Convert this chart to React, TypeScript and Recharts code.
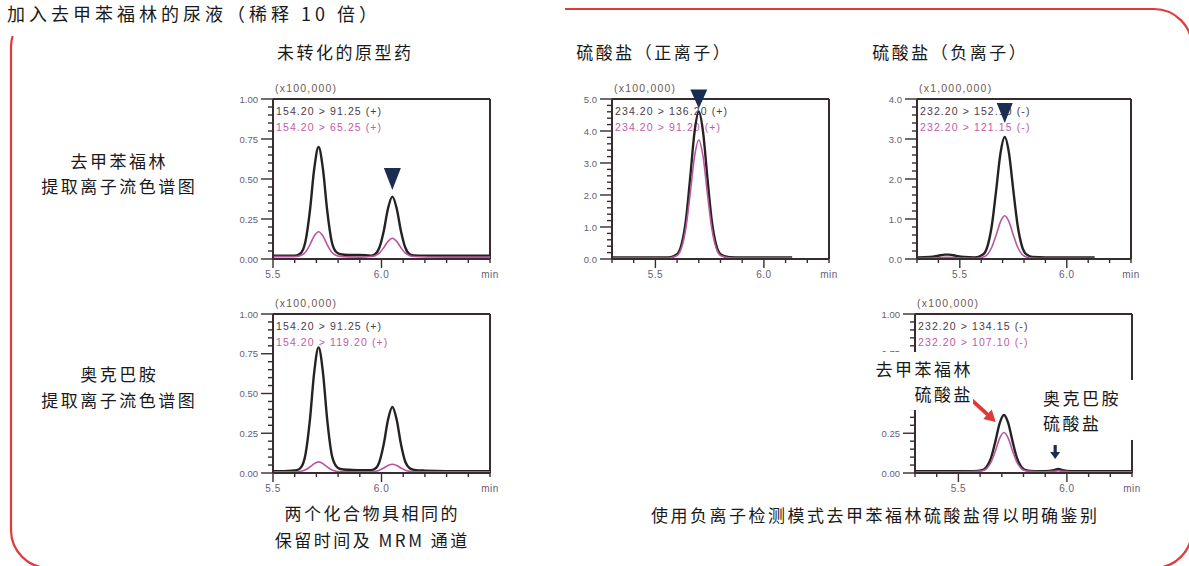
import React from 'react'
import { LineChart, Line, XAxis, YAxis, ReferenceLine, ReferenceDot } from 'recharts'

const AXIS = '#3a2c2e'
const TICK_TXT = '#6a6070'
const SCALE_TXT = '#6e5a52'
const MRM_DARK = '#4a3a48'
const MRM_PINK = '#c25aa6'
const NAVY = '#1b2d50'
const TRACE_DARK = '#262222'
const TRACE_PINK = '#b8579f'
const FRAME_RED = '#e0393a'
const CAPTION = '#1a1a1a'
const SMALL_FONT = '"Liberation Sans", Arial, sans-serif'
const CJK_FONT = '"Noto Sans CJK SC", "Noto Sans", sans-serif'

// XIC panels (unchanged drug), 5.5 - 6.5 min
const xicTimes = [5.50, 5.55, 5.59, 5.61, 5.63, 5.65, 5.67, 5.69, 5.71, 5.73, 5.75, 5.77, 5.79, 5.81, 5.85, 5.90, 5.95, 5.97, 5.99, 6.01, 6.03, 6.05, 6.07, 6.09, 6.11, 6.13, 6.15, 6.20, 6.30, 6.40, 6.50]
const norfenefrineQuant = [0.02, 0.02, 0.02, 0.023, 0.039, 0.112, 0.30, 0.564, 0.70, 0.564, 0.30, 0.112, 0.045, 0.03, 0.025, 0.025, 0.021, 0.03, 0.07, 0.172, 0.316, 0.39, 0.316, 0.172, 0.07, 0.03, 0.022, 0.02, 0.02, 0.02, 0.02]
const norfenefrineQual = [0.015, 0.015, 0.015, 0.016, 0.023, 0.044, 0.089, 0.144, 0.17, 0.144, 0.089, 0.044, 0.023, 0.016, 0.013, 0.012, 0.016, 0.021, 0.037, 0.07, 0.11, 0.13, 0.11, 0.07, 0.037, 0.021, 0.016, 0.013, 0.012, 0.012, 0.012]
const octopamineQuant = [0.012, 0.012, 0.015, 0.018, 0.037, 0.12, 0.333, 0.635, 0.79, 0.635, 0.333, 0.12, 0.045, 0.025, 0.02, 0.018, 0.017, 0.026, 0.069, 0.179, 0.335, 0.415, 0.335, 0.179, 0.069, 0.03, 0.02, 0.015, 0.012, 0.012, 0.012]
const octopamineQual = [0.008, 0.008, 0.008, 0.008, 0.011, 0.02, 0.038, 0.059, 0.07, 0.059, 0.038, 0.02, 0.011, 0.008, 0.007, 0.007, 0.008, 0.01, 0.017, 0.031, 0.047, 0.055, 0.047, 0.031, 0.017, 0.01, 0.008, 0.007, 0.007, 0.007, 0.007]

// sulfate, positive ion
const sulfatePosTimes = [5.30, 5.40, 5.50, 5.56, 5.60, 5.62, 5.64, 5.66, 5.68, 5.70, 5.72, 5.74, 5.76, 5.78, 5.80, 5.84, 5.90, 6.00, 6.13]
const sulfatePosQuant = [0.05, 0.05, 0.05, 0.05, 0.15, 0.44, 1.18, 2.51, 3.95, 4.6, 3.95, 2.51, 1.18, 0.44, 0.15, 0.06, 0.05, 0.05, 0.05]
const sulfatePosQual = [0.03, 0.03, 0.03, 0.03, 0.11, 0.34, 0.95, 2.02, 3.18, 3.72, 3.18, 2.02, 0.95, 0.34, 0.11, 0.04, 0.03, 0.03, 0.03]

// sulfate, negative ion (norfenefrine spiked urine)
const sulfateNegTimes = [5.30, 5.36, 5.40, 5.43, 5.45, 5.48, 5.52, 5.57, 5.61, 5.63, 5.65, 5.67, 5.69, 5.71, 5.73, 5.75, 5.77, 5.79, 5.81, 5.84, 5.90, 6.00, 6.13]
const sulfateNegQuant = [0.04, 0.05, 0.08, 0.11, 0.11, 0.08, 0.05, 0.04, 0.12, 0.33, 0.85, 1.72, 2.64, 3.05, 2.64, 1.72, 0.85, 0.33, 0.12, 0.05, 0.04, 0.04, 0.04]
const sulfateNegQual = [0.02, 0.025, 0.03, 0.04, 0.04, 0.03, 0.025, 0.02, 0.05, 0.12, 0.3, 0.6, 0.93, 1.08, 0.93, 0.6, 0.3, 0.12, 0.05, 0.025, 0.02, 0.02, 0.02]

// sulfate, negative ion, octopamine channel
const octoSulfateTimes = [5.30, 5.40, 5.50, 5.57, 5.61, 5.63, 5.65, 5.67, 5.69, 5.71, 5.73, 5.75, 5.77, 5.79, 5.81, 5.85, 5.90, 5.94, 5.96, 5.98, 6.02, 6.13, 6.25, 6.30]
const octoSulfateQuant = [0.012, 0.012, 0.012, 0.012, 0.018, 0.038, 0.093, 0.196, 0.312, 0.365, 0.312, 0.196, 0.093, 0.038, 0.018, 0.012, 0.012, 0.018, 0.025, 0.018, 0.012, 0.012, 0.012, 0.012]
const octoSulfateQual = [0.008, 0.008, 0.008, 0.009, 0.014, 0.028, 0.066, 0.137, 0.218, 0.255, 0.218, 0.137, 0.066, 0.028, 0.014, 0.009, 0.008, 0.01, 0.014, 0.01, 0.008, 0.008, 0.008, 0.008]

const yMajorXic = [0, 0.25, 0.5, 0.75, 1]
const yMajorPos = [0, 1, 2, 3, 4, 5]
const yMajorNeg = [0, 1, 2, 3, 4]
const xMajor = [5.5, 6.0]

const steps = (from: number, to: number, step: number) =>
    Array.from({ length: Math.round((to - from) / step) + 1 }, (_, i) => +(from + i * step).toFixed(3))

const near = (a: number, b: number) => Math.abs(a - b) < 1e-6

const renderXTick = (last: number) => (p: any) => {
    const v = p.payload.value
    const major = xMajor.some(m => near(m, v))
    const isLast = near(v, last)
    return (
        <g>
            <line x1={p.x} x2={p.x} y1={p.y} y2={p.y + (major ? 9 : 4)} stroke={AXIS} strokeWidth={1.4} />
            {(major || isLast) && (
                <text x={p.x} y={p.y + 19} textAnchor="middle" fontSize={10} letterSpacing={0.5} fill={TICK_TXT} fontFamily={SMALL_FONT}>
                    {isLast ? 'min' : v.toFixed(1)}
                </text>
            )}
        </g>
    )
}

const renderYTick = (majors: number[], digits: number) => (p: any) => {
    const v = p.payload.value
    const major = majors.some(m => near(m, v))
    return (
        <g>
            <line x1={p.x - (major ? 12 : 5)} x2={p.x} y1={p.y} y2={p.y} stroke={AXIS} strokeWidth={1.4} />
            {major && (
                <text x={p.x - 15} y={p.y + 3.5} textAnchor="end" fontSize={9.5} fill={TICK_TXT} fontFamily={SMALL_FONT}>
                    {v.toFixed(digits)}
                </text>
            )}
        </g>
    )
}

const triangle = (w: number, h: number) => (p: any) => (
    <path d={`M${p.cx - w / 2},${p.cy - h / 2} L${p.cx + w / 2},${p.cy - h / 2} L${p.cx},${p.cy + h / 2} Z`} fill={NAVY} />
)

const redArrow = (p: any) => (
    <g>
        <line x1={p.cx - 24} y1={p.cy - 22} x2={p.cx - 8} y2={p.cy - 7.5} stroke={FRAME_RED} strokeWidth={4} />
        <path d={`M${p.cx},${p.cy} L${p.cx - 12.5},${p.cy - 3} L${p.cx - 4},${p.cy - 12.5} Z`} fill={FRAME_RED} />
    </g>
)

const navyArrow = (p: any) => (
    <g>
        <rect x={p.cx - 1.6} y={p.cy - 14} width={3.2} height={8} fill={NAVY} />
        <path d={`M${p.cx - 5},${p.cy - 7} L${p.cx + 5},${p.cy - 7} L${p.cx},${p.cy} Z`} fill={NAVY} />
    </g>
)

interface PanelProps {
    x: number
    y: number
    w: number
    h: number
    times: number[]
    quant: number[]
    qual: number[]
    xMin: number
    xMax: number
    yMax: number
    yMajor: number[]
    yMinorStep: number
    yDigits: number
    scale: string
    mrm: string[]
    marks?: React.ReactNode
    after?: React.ReactNode
}

function Panel(props: PanelProps) {
    const { x, y, w, h, times, quant, qual, xMin, xMax, yMax, yMajor, yMinorStep, yDigits, scale, mrm, marks, after } = props
    const data = times.map((t, i) => ({ t, quant: quant[i], qual: qual[i] }))
    const padL = 60, padT = 20, padR = 30, padB = 30
    return (
        <div style={{ position: 'absolute', left: x - padL, top: y - padT, width: w + padL + padR, height: h + padT + padB }}>
            <div style={{ position: 'absolute', left: padL + 2, top: padT - 17, fontSize: 10.5, letterSpacing: 1.2, lineHeight: '12px', color: SCALE_TXT, fontFamily: SMALL_FONT, whiteSpace: 'nowrap' }}>
                {scale}
            </div>
            <div style={{ position: 'absolute', left: padL + 3, top: padT + 4, fontSize: 10.5, letterSpacing: 1.1, lineHeight: '16px', fontFamily: SMALL_FONT, whiteSpace: 'nowrap' }}>
                <div style={{ color: MRM_DARK }}>{mrm[0]}</div>
                <div style={{ color: MRM_PINK }}>{mrm[1]}</div>
            </div>
            <LineChart width={w + padL + padR} height={h + padT + padB} data={data} margin={{ top: padT, right: padR, bottom: 0, left: 0 }}>
                <XAxis
                    dataKey="t"
                    type="number"
                    domain={[xMin, xMax]}
                    ticks={steps(xMin, xMax, 0.1)}
                    interval={0}
                    height={padB}
                    tickSize={0}
                    tickMargin={0}
                    tickLine={false}
                    axisLine={{ stroke: AXIS, strokeWidth: 2 }}
                    tick={renderXTick(xMax)}
                    allowDataOverflow
                />
                <YAxis
                    type="number"
                    domain={[0, yMax]}
                    ticks={steps(0, yMax, yMinorStep)}
                    interval={0}
                    width={padL}
                    tickSize={0}
                    tickMargin={0}
                    tickLine={false}
                    axisLine={{ stroke: AXIS, strokeWidth: 2 }}
                    tick={renderYTick(yMajor, yDigits)}
                    allowDataOverflow
                />
                <ReferenceLine y={yMax} stroke={AXIS} strokeWidth={2} />
                <ReferenceLine x={xMax} stroke={AXIS} strokeWidth={2} />
                <Line type="monotone" dataKey="quant" stroke={TRACE_DARK} strokeWidth={2.4} dot={false} isAnimationActive={false} />
                <Line type="monotone" dataKey="qual" stroke={TRACE_PINK} strokeWidth={1.6} dot={false} isAnimationActive={false} />
                {marks}
            </LineChart>
            {after}
        </div>
    )
}

function Caption({ cx, cy, text, size = 17, spacing = 2.5 }: { cx: number, cy: number, text: string, size?: number, spacing?: number }) {
    return (
        <div style={{
            position: 'absolute', left: cx - 300, width: 600, top: cy - 12, lineHeight: '24px', textAlign: 'center',
            fontSize: size, letterSpacing: spacing, paddingLeft: spacing, boxSizing: 'border-box',
            whiteSpace: 'nowrap', color: CAPTION, fontFamily: CJK_FONT
        }}>
            {text}
        </div>
    )
}

const boxText: React.CSSProperties = {
    position: 'absolute', background: '#fff', fontSize: 17, letterSpacing: 2.5, lineHeight: '25px',
    color: CAPTION, fontFamily: CJK_FONT, whiteSpace: 'nowrap', boxSizing: 'border-box'
}

export default function App() {
    return (
        <div style={{ position: 'absolute', left: 0, top: 0, width: 1189, height: 566, background: '#fff', overflow: 'hidden' }}>
            <svg width={1189} height={566} style={{ position: 'absolute', left: 0, top: 0 }}>
                <path
                    d="M565,9 L1154,9 A38,38 0 0 1 1192,47 L1192,530 A38,38 0 0 1 1154,568 L49,568 A38,38 0 0 1 11,530 L11,47 A38,38 0 0 1 12.6,36"
                    fill="none" stroke={FRAME_RED} strokeWidth={2.2}
                />
            </svg>

            <div style={{ position: 'absolute', left: 7, top: 3, fontSize: 18, lineHeight: '20px', letterSpacing: 4, color: CAPTION, fontFamily: CJK_FONT, whiteSpace: 'nowrap' }}>
                加入去甲苯福林的尿液（稀释 10 倍）
            </div>

            <Caption cx={344} cy={52} text="未转化的原型药" />
            <Caption cx={653} cy={52} text="硫酸盐（正离子）" />
            <Caption cx={949} cy={52} text="硫酸盐（负离子）" />

            <Caption cx={118} cy={161} text="去甲苯福林" />
            <Caption cx={118} cy={186} text="提取离子流色谱图" />
            <Caption cx={118} cy={374} text="奥克巴胺" />
            <Caption cx={118} cy={400} text="提取离子流色谱图" />

            <Caption cx={371} cy={513} text="两个化合物具相同的" />
            <Caption cx={371} cy={540} text="保留时间及 MRM 通道" />
            <Caption cx={874} cy={515} text="使用负离子检测模式去甲苯福林硫酸盐得以明确鉴别" />

            <Panel
                x={273} y={99} w={217} h={160}
                times={xicTimes} quant={norfenefrineQuant} qual={norfenefrineQual}
                xMin={5.5} xMax={6.5} yMax={1} yMajor={yMajorXic} yMinorStep={0.05} yDigits={2}
                scale="(x100,000)" mrm={['154.20 > 91.25 (+)', '154.20 > 65.25 (+)']}
                marks={<ReferenceDot x={6.05} y={0.5} r={0} shape={triangle(17, 22)} ifOverflow="visible" />}
            />
            <Panel
                x={612} y={99} w={217} h={160}
                times={sulfatePosTimes} quant={sulfatePosQuant} qual={sulfatePosQual}
                xMin={5.3} xMax={6.3} yMax={5} yMajor={yMajorPos} yMinorStep={0.2} yDigits={1}
                scale="(x100,000)" mrm={['234.20 > 136.20 (+)', '234.20 > 91.20 (+)']}
                marks={<ReferenceDot x={5.70} y={5.0} r={0} shape={triangle(17, 19)} ifOverflow="visible" />}
            />
            <Panel
                x={917} y={99} w={214} h={160}
                times={sulfateNegTimes} quant={sulfateNegQuant} qual={sulfateNegQual}
                xMin={5.3} xMax={6.3} yMax={4} yMajor={yMajorNeg} yMinorStep={0.2} yDigits={1}
                scale="(x1,000,000)" mrm={['232.20 > 152.10 (-)', '232.20 > 121.15 (-)']}
                marks={<ReferenceDot x={5.71} y={3.65} r={0} shape={triangle(16, 20)} ifOverflow="visible" />}
            />
            <Panel
                x={273} y={314} w={217} h={159}
                times={xicTimes} quant={octopamineQuant} qual={octopamineQual}
                xMin={5.5} xMax={6.5} yMax={1} yMajor={yMajorXic} yMinorStep={0.05} yDigits={2}
                scale="(x100,000)" mrm={['154.20 > 91.25 (+)', '154.20 > 119.20 (+)']}
            />
            <Panel
                x={915} y={314} w={217} h={159}
                times={octoSulfateTimes} quant={octoSulfateQuant} qual={octoSulfateQual}
                xMin={5.3} xMax={6.3} yMax={1} yMajor={yMajorXic} yMinorStep={0.05} yDigits={2}
                scale="(x100,000)" mrm={['232.20 > 134.15 (-)', '232.20 > 107.10 (-)']}
                marks={[
                    <ReferenceDot key="red" x={5.672} y={0.32} r={0} shape={redArrow} ifOverflow="visible" />,
                    <ReferenceDot key="navy" x={5.946} y={0.088} r={0} shape={navyArrow} ifOverflow="visible" />,
                ]}
                after={[
                    <div key="l" style={{ ...boxText, left: 3, top: 58, width: 115, height: 58, paddingTop: 3.5, textAlign: 'right' }}>
                        <div>去甲苯福林</div>
                        <div>硫酸盐</div>
                    </div>,
                    <div key="r" style={{ ...boxText, left: 183, top: 86, width: 104, height: 60, paddingTop: 4.5, paddingLeft: 5, textAlign: 'left' }}>
                        <div>奥克巴胺</div>
                        <div>硫酸盐</div>
                    </div>,
                ]}
            />
        </div>
    )
}
